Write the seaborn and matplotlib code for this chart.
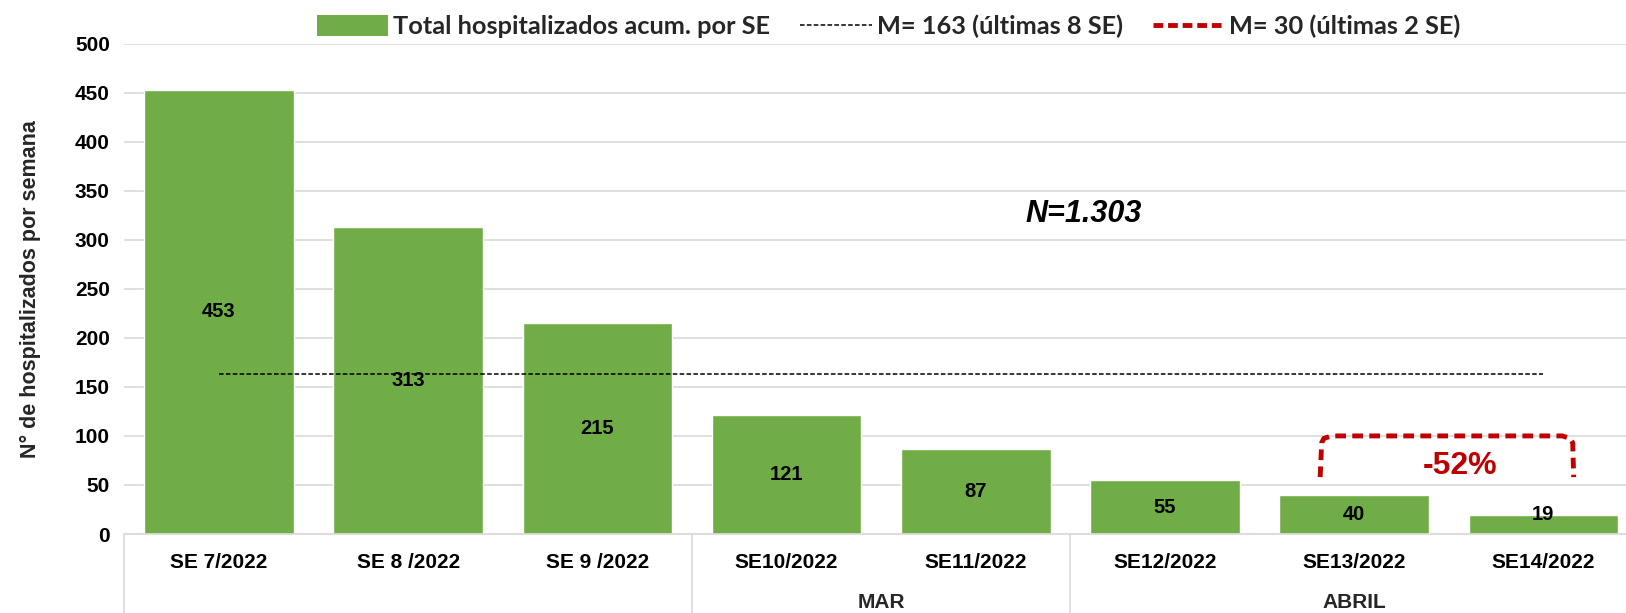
import matplotlib
matplotlib.use("Agg")
import matplotlib.pyplot as plt
import seaborn as sns
import pandas as pd
import numpy as np
from matplotlib.lines import Line2D
from matplotlib.patches import Patch

# ---- data ----
weeks = ["SE 7/2022", "SE 8 /2022", "SE 9 /2022", "SE10/2022", "SE11/2022",
         "SE12/2022", "SE13/2022", "SE14/2022"]
hosp = [453, 313, 215, 121, 87, 55, 40, 19]
mean8 = 163
mean2 = 30
groups = ["", "MAR", "ABRIL"]
group_spans = [(0, 2), (3, 4), (5, 7)]
total_label = "N=1.303"
change_label = "-52%"

sns.set_theme(style="white")
plt.rcParams['font.family'] = ['Liberation Sans', 'DejaVu Sans']

fig = plt.figure(figsize=(16.26, 6.13), dpi=100)
ax = fig.add_axes([124.4 / 1626, 1 - 534 / 613, (1626 - 124.4) / 1626, (534 - 43.6) / 613])

df = pd.DataFrame({"week": weeks, "n": hosp})
sns.barplot(data=df, x="week", y="n", color="#70AD47", saturation=1, width=0.79, ax=ax,
            zorder=2)

ax.set_ylim(0, 500)
ax.set_xlim(-0.5, -0.5 + (1626 - 124.4) / 189.2)
ax.set_yticks(np.arange(0, 501, 50))
ax.yaxis.grid(True, color="#D9D9D9", linewidth=1.2, zorder=0)
ax.xaxis.grid(False)
for s in ["top", "right", "left"]:
    ax.spines[s].set_visible(False)
ax.spines["bottom"].set_color("#D9D9D9")
ax.spines["bottom"].set_linewidth(1.2)
ax.tick_params(axis="y", length=0, pad=10.5, labelsize=15)
ax.tick_params(axis="x", length=0, pad=13.5, labelsize=15)
for lab in ax.get_yticklabels() + ax.get_xticklabels():
    lab.set_fontweight("bold")
    lab.set_color("black")
ax.set_xlabel("")
ax.set_ylabel("N° de hospitalizados por semana", fontsize=15.5, fontweight="bold", labelpad=24)

# bar value labels
for i, v in enumerate(hosp):
    y = max(v / 2, 20)
    ax.text(i, y, str(v), ha="center", va="center", fontsize=14.5, fontweight="bold",
            color="black", zorder=4)

# mean line (8 weeks)
xs = np.arange(len(weeks))
ax.plot([xs[0], xs[-1]], [mean8, mean8], color="black", linestyle=(0, (3, 1.5)),
        linewidth=1.1, zorder=3)

# red bracket
bx0, bx1 = 5.82, 7.16
byb, byt = 58, 100
bxs = [bx0, bx0 + 0.008, bx0 + 0.02, bx0 + 0.06, bx1 - 0.06, bx1 - 0.02, bx1 - 0.005, bx1]
bys = [byb, byt - 7, byt - 2.5, byt, byt, byt - 2.5, byt - 7, byb]
ax.plot(bxs, bys, color="#C00000", linestyle=(0, (2.2, 1.3)), linewidth=3.5, zorder=3,
        dash_capstyle="butt")
ax.text(6.56, 69, change_label, ha="center", va="center", color="#C00000",
        fontsize=23, fontweight="bold")

ax.text(4.57, 326, total_label, ha="center", va="center", fontsize=22,
        fontweight="bold", fontstyle="italic", color="black")

# group separators and labels below axis
trans = ax.get_xaxis_transform()
for (a, b), g in zip(group_spans, groups):
    ax.plot([a - 0.5, a - 0.5], [0, -0.17], transform=trans, color="#D9D9D9",
            linewidth=1.2, clip_on=False)
    if g:
        xc = (a - 0.5 + min(b + 0.5, 7.5)) / 2
        ax.text(xc, -0.139, g, transform=trans, ha="center", va="center",
                fontsize=15, fontweight="bold")

handles = [
    Patch(facecolor="#70AD47", edgecolor="none"),
    Line2D([], [], color="black", linestyle=(0, (3, 1.5)), linewidth=1.1),
    Line2D([], [], color="#C00000", linestyle=(0, (2, 1)), linewidth=3.5),
]
labels = ["Total hospitalizados acum. por SE", "M= 163 (últimas 8 SE)", "M= 30 (últimas 2 SE)"]
leg = ax.legend(handles, labels, loc="lower center", bbox_to_anchor=(0.509, 0.99), ncol=3,
                frameon=False,
                prop={"family": ["Lato", "DejaVu Sans"], "weight": "bold", "size": 18.3},
                handlelength=2.8, handleheight=0.85, columnspacing=1.2, handletextpad=0.2,
                borderaxespad=0)

fig.savefig("out.png", dpi=100)
